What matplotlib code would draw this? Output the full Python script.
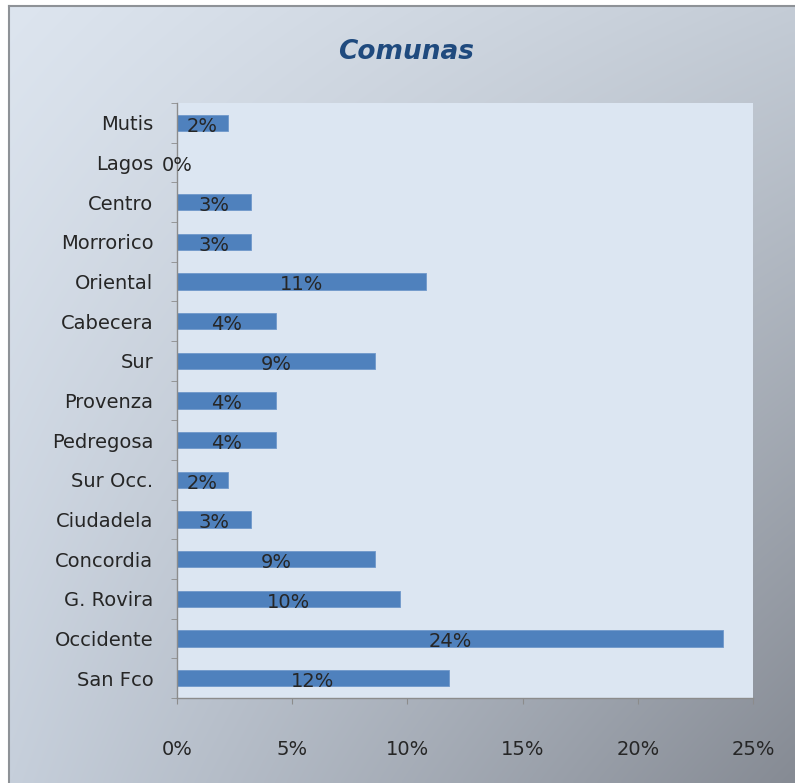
import numpy as np
import matplotlib
matplotlib.use("Agg")
import matplotlib.pyplot as plt
from matplotlib.ticker import FuncFormatter, MultipleLocator

# data (share of total)
comunas = ["Mutis", "Lagos", "Centro", "Morrorico", "Oriental", "Cabecera", "Sur",
           "Provenza", "Pedregosa", "Sur Occ.", "Ciudadela", "Concordia",
           "G. Rovira", "Occidente", "San Fco"]
valores = [2.2, 0.0, 3.2, 3.2, 10.8, 4.3, 8.6, 4.3, 4.3, 2.2, 3.2, 8.6, 9.7, 23.7, 11.8]
etiquetas = ["2%", "0%", "3%", "3%", "11%", "4%", "9%", "4%", "4%", "2%", "3%",
             "9%", "10%", "24%", "12%"]

W, H = 795, 783
TEXT = "#262626"
BAR = "#4F81BD"

fig = plt.figure(figsize=(W / 100, H / 100), dpi=100)
fig.patch.set_facecolor("white")

# chart area background: gradient light (top-left) to grey (bottom-right)
bg = fig.add_axes([0, 0, 1, 1], zorder=0)
bg.set_xlim(0, W)
bg.set_ylim(H, 0)
bg.axis("off")
tl = np.array([221, 229, 239]) / 255
tr = np.array([196, 204, 214]) / 255
bl = np.array([198, 207, 219]) / 255
br = np.array([134, 139, 148]) / 255
gx = np.linspace(0, 1, 200)[None, :, None]
gy = np.linspace(0, 1, 200)[:, None, None]
grad = (tl * (1 - gx) * (1 - gy) + tr * gx * (1 - gy)
        + bl * (1 - gx) * gy + br * gx * gy)
bg.imshow(grad, extent=[9, W, H, 6], aspect="auto", interpolation="bilinear")
bg.plot([9, W], [6, 6], color="#8E9297", lw=1.5)
bg.plot([9, 9], [6, H], color="#8E9297", lw=1.5)

ax = fig.add_axes([177 / W, 1 - 698 / H, (753 - 177) / W, (698 - 103) / H], zorder=1)
ax.set_facecolor("#DCE6F2")

y = np.arange(len(comunas))
ax.barh(y, valores, height=0.42, color=BAR, edgecolor="#6F98CB", linewidth=0.6)
for yi, v, lab in zip(y, valores, etiquetas):
    ax.text(v / 2, yi + 0.08, lab, ha="center", va="center", fontsize=14, color=TEXT)

ax.set_xlim(0, 25)
ax.set_ylim(len(comunas) - 0.5, -0.5)
ax.set_yticks(y)
ax.set_yticklabels(comunas)
ax.set_yticks(np.arange(-0.5, len(comunas), 1), minor=True)
ax.tick_params(axis="y", which="major", length=0, pad=17, labelsize=14, labelcolor=TEXT)
ax.tick_params(axis="y", which="minor", length=4, color="#8C8C8C")
ax.xaxis.set_major_locator(MultipleLocator(5))
ax.xaxis.set_major_formatter(FuncFormatter(lambda v, p: "{:.0f}%".format(v)))
ax.tick_params(axis="x", length=4, color="#8C8C8C", pad=26, labelsize=14, labelcolor=TEXT)

for s in ["top", "right"]:
    ax.spines[s].set_visible(False)
for s in ["left", "bottom"]:
    ax.spines[s].set_color("#8C8C8C")
    ax.spines[s].set_linewidth(1)

fig.text(406 / W, 1 - 52 / H, "Comunas", ha="center", va="center", fontsize=19,
         fontweight="bold", fontstyle="italic", color="#1F4A7E")

fig.savefig("out.png", dpi=100)
